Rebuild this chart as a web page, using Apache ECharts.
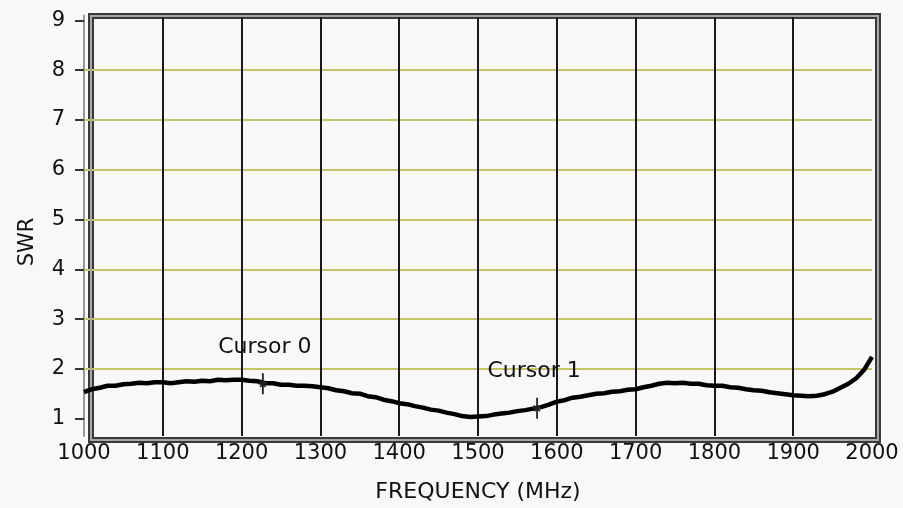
<!DOCTYPE html>
<html>
<head>
<meta charset="utf-8">
<script src="https://cdn.jsdelivr.net/npm/echarts@6/dist/echarts.min.js"></script>
<style>
html,body{margin:0;padding:0;background:#f8f8f8;}
#chart{width:903px;height:508px;}
</style>
</head>
<body>
<div id="chart"></div>
<script>
// ---- data ----
var freq = [1000,1010,1020,1030,1040,1050,1060,1070,1080,1090,
            1100,1110,1120,1130,1140,1150,1160,1170,1180,1190,
            1200,1210,1220,1230,1240,1250,1260,1270,1280,1290,
            1300,1310,1320,1330,1340,1350,1360,1370,1380,1390,
            1400,1410,1420,1430,1440,1450,1460,1470,1480,1490,
            1500,1510,1520,1530,1540,1550,1560,1570,1580,1590,
            1600,1610,1620,1630,1640,1650,1660,1670,1680,1690,
            1700,1710,1720,1730,1740,1750,1760,1770,1780,1790,
            1800,1810,1820,1830,1840,1850,1860,1870,1880,1890,
            1900,1910,1920,1930,1940,1950,1960,1970,1980,1990,2000];
var swr = [1.53,1.59,1.62,1.66,1.66,1.69,1.70,1.72,1.71,1.73,
           1.73,1.71,1.73,1.75,1.74,1.76,1.75,1.78,1.77,1.78,
           1.78,1.76,1.75,1.71,1.71,1.68,1.68,1.66,1.66,1.65,
           1.63,1.61,1.57,1.55,1.51,1.50,1.45,1.43,1.38,1.35,
           1.31,1.29,1.25,1.22,1.18,1.16,1.12,1.09,1.05,1.03,
           1.04,1.05,1.08,1.10,1.12,1.15,1.17,1.20,1.23,1.28,
           1.34,1.37,1.42,1.44,1.47,1.50,1.51,1.54,1.55,1.58,
           1.59,1.63,1.66,1.70,1.72,1.71,1.72,1.70,1.70,1.67,
           1.66,1.66,1.63,1.62,1.59,1.57,1.56,1.53,1.51,1.49,
           1.47,1.46,1.45,1.46,1.49,1.54,1.62,1.70,1.81,1.98,2.24];
var yTicks = [1,2,3,4,5,6,7,8,9];
var yGridLevels = [2,3,4,5,6,7,8];
var xGridLevels = [1100,1200,1300,1400,1500,1600,1700,1800,1900];
var cursorNames = ['Cursor 0','Cursor 1'];
var cursorFreq = [1227, 1575];
var cursorSwr = [1.70, 1.21];

// ---- chart ----
var FONT = 'DejaVu Sans';
var chart = echarts.init(document.getElementById('chart'), null, {renderer:'canvas'});
var curvePts = freq.map(function(f,i){return [f, swr[i]];});
var cursorLabelOffsets = [[2,0],[-3,0]];
var cursorPts = cursorNames.map(function(n,i){
  return {value:[cursorFreq[i], cursorSwr[i]], name:n,
          label:{offset:cursorLabelOffsets[i]}};
});

var option = {
  backgroundColor:'#f8f8f8',
  animation:false,
  grid:{left:84, right:31, top:15.5, bottom:68, containLabel:false},
  xAxis:{
    type:'value', min:1000, max:2000, interval:100,
    name:'FREQUENCY (MHz)', nameLocation:'middle', nameGap:45,
    nameTextStyle:{fontFamily:FONT, fontSize:22, color:'#111'},
    axisLine:{show:false}, axisTick:{show:false}, splitLine:{show:false},
    axisLabel:{fontFamily:FONT, fontSize:21, color:'#111', margin:7,
      formatter:function(v){return String(v);}}
  },
  yAxis:{
    type:'value', min:0.65, max:9.1,
    axisLine:{show:true, lineStyle:{color:'#999', width:2}},
    axisTick:{show:true, customValues:yTicks, length:9, lineStyle:{color:'#333', width:2}},
    axisLabel:{customValues:yTicks, fontFamily:FONT, fontSize:21, color:'#111', margin:19},
    splitLine:{show:false}
  },
  graphic:[
    {type:'rect', z:5, silent:true, shape:{x:91, y:16, width:787, height:424},
     style:{fill:'none', stroke:'#3a3a3a', lineWidth:6}},
    {type:'rect', z:6, silent:true, shape:{x:91, y:16, width:787, height:424},
     style:{fill:'none', stroke:'#a8a8a8', lineWidth:2}},
    {type:'text', z:6, silent:true, x:28, y:242, rotation:Math.PI/2,
     style:{text:'SWR', fontFamily:FONT, fontSize:21, fill:'#111', align:'center', verticalAlign:'middle'}}
  ],
  series:[
    {type:'line', data:[], z:1, silent:true,
     markLine:{silent:true, symbol:'none', animation:false, label:{show:false},
       lineStyle:{color:'#c4c468', width:2, type:'solid'},
       data:yGridLevels.map(function(v){return {yAxis:v};})}},
    {type:'line', data:[], z:1, silent:true,
     markLine:{silent:true, symbol:'none', animation:false, label:{show:false},
       lineStyle:{color:'#1a1a1a', width:2, type:'solid'},
       data:xGridLevels.map(function(v){return {xAxis:v};})}},
    {type:'line', data:curvePts, z:10, showSymbol:false, smooth:false,
     lineStyle:{color:'#000', width:4.5}},
    {type:'scatter', data:cursorPts, z:11,
     symbol:'path://M3.2,0h1.6v20h-1.6z M0,9.2h8v1.6h-8z M1.5,7l5.5,5.5l-1,1l-5.5,-5.5z M6.5,7l1,1l-5.5,5.5l-1,-1z',
     symbolSize:[9,21], itemStyle:{color:'#222', opacity:1},
     label:{show:true, position:'top', distance:15, formatter:'{b}', fontFamily:FONT, fontSize:22, color:'#111'}}
  ]
};
chart.setOption(option);
</script>
</body>
</html>
